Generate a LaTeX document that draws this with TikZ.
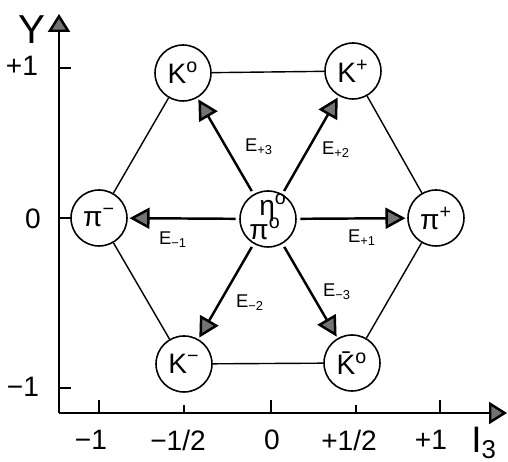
\documentclass[tikz,border=0pt]{standalone}
\usepackage{fontspec}
\setmainfont{Liberation Sans}
\usetikzlibrary{arrows.meta}

\tikzset{
    particella/.style={circle, draw, line width=0.9pt, minimum size=1.12cm, inner sep=0pt, font=\fontsize{16}{16}\selectfont},
    lato/.style={line width=0.8pt},
    freccia/.style={line width=1.4pt, -{Triangle[length=4mm, width=4.2mm, fill=black!55]}, shorten >=1pt, shorten <=2pt},
    asse/.style={line width=1.4pt, -{Triangle[length=3.6mm, width=4.4mm, fill=black!55]}},
    tacca/.style={line width=0.9pt},
    numero/.style={font=\fontsize{16}{16}\selectfont},
    etichetta/.style={font=\fontsize{10.5}{10.5}\selectfont},
}

\begin{document}
\begin{tikzpicture}[x=0.02cm, y=-0.02cm]
    \useasboundingbox (0,0) rectangle (508,462);

    % Assi
    \coordinate (O) at (59,413);
    \coordinate (ytop) at (59,14);
    \coordinate (xend) at (507,413);
    \draw[asse] (O) -- (ytop);
    \draw[asse] (O) -- (xend);
    \node[font=\fontsize{23}{23}\selectfont] (Ylab) at (32,30) {Y};
    \node[font=\fontsize{21}{21}\selectfont] (Ilab) at (484,443) {I\textsubscript{3}};

    % Tacche
    \draw[tacca] (99,413) -- (99,400);
    \draw[tacca] (184,413) -- (184,405);
    \draw[tacca] (271,413) -- (271,400);
    \draw[tacca] (356,413) -- (356,405);
    \draw[tacca] (440,413) -- (440,400);
    \draw[tacca] (59,68) -- (71,68);
    \draw[tacca] (59,218) -- (71,218);
    \draw[tacca] (59,388) -- (71,388);

    % Etichette degli assi
    \node[numero] (xa) at (91,440) {−1};
    \node[numero] (xb) at (178,440) {−1/2};
    \node[numero] (xc) at (272,440) {0};
    \node[numero] (xd) at (349,440) {+1/2};
    \node[numero] (xe) at (431,440) {+1};
    \node[numero] (ya) at (22,66) {+1};
    \node[numero] (yb) at (33,219) {0};
    \node[numero] (yc) at (23,387) {−1};

    % Particelle
    \node[particella] (Kz) at (183,73) {K\textsuperscript{o}};
    \node[particella] (Kp) at (353,71) {K\textsuperscript{+}};
    \node[particella] (pim) at (99,218) {π\textsuperscript{−}};
    \node[particella] (pip) at (436,218) {π\textsuperscript{+}};
    \node[particella] (eta) at (268,219) {};
    \node[particella] (Km) at (184,364) {K\textsuperscript{−}};
    \node[particella] (Kzb) at (352,363) {\={K}\textsuperscript{o}};
    \node[font=\fontsize{16}{16}\selectfont] (etatxt) at (273,208) {η\textsuperscript{o}};
    \node[font=\fontsize{16}{16}\selectfont] (pizt) at (265,229) {π\textsuperscript{o}};

    % Esagono
    \draw[lato] (Kz) -- (Kp) -- (pip) -- (Kzb) -- (Km) -- (pim) -- (Kz);

    % Operatori
    \draw[freccia] (eta) -- (Kz);
    \draw[freccia] (eta) -- (Kp);
    \draw[freccia] (eta) -- (pim);
    \draw[freccia] (eta) -- (pip);
    \draw[freccia] (eta) -- (Km);
    \draw[freccia] (eta) -- (Kzb);
    \node[etichetta] (Ep3) at (259,147) {E\textsubscript{+3}};
    \node[etichetta] (Ep2) at (336,150) {E\textsubscript{+2}};
    \node[etichetta] (Em1) at (173,240) {E\textsubscript{−1}};
    \node[etichetta] (Ep1) at (362,238) {E\textsubscript{+1}};
    \node[etichetta] (Em2) at (250,303) {E\textsubscript{−2}};
    \node[etichetta] (Em3) at (337,292) {E\textsubscript{−3}};
\end{tikzpicture}
\end{document}
